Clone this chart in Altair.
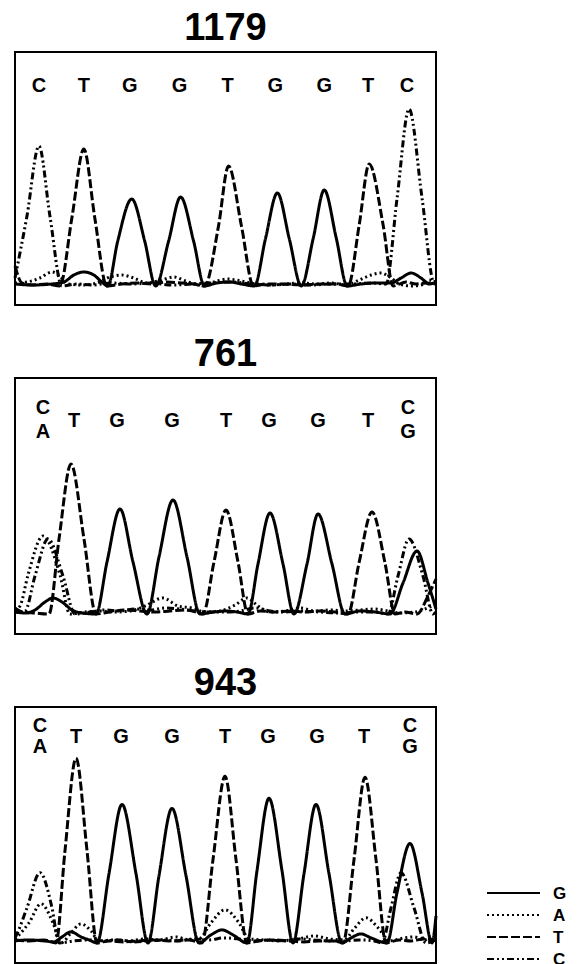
import altair as alt
import pandas as pd

BASES = ["G", "A", "T", "C"]
DASHES = [[1, 0], [2, 3], [9, 3], [7, 3, 2, 3, 2, 3]]

# ---------------- panel 1 : 1179 ----------------
p1_title = "1179"
p1_G = [(13, 2), (30, 1), (50, 2), (62, 4), (72, 11), (82, 14), (92, 11), (100, 4), (106, 0), (116, 45), (130, 87),
        (143, 45), (154, 0), (167, 45), (179, 89), (192, 45), (203, 0), (215, 3), (228, 4), (240, 2), (253, 0),
        (264, 47), (276, 93), (288, 47), (300, 0), (312, 48), (323, 96), (335, 48), (346, 0), (360, 2), (375, 3),
        (390, 3), (400, 8), (410, 13), (420, 8), (428, 2), (435, 4)]
p1_A = [(13, 3), (25, 4), (38, 8), (50, 14), (58, 10), (66, 2), (80, 1), (95, 3), (108, 9), (120, 11), (132, 8),
        (145, 3), (160, 6), (172, 9), (184, 5), (198, 1), (212, 4), (226, 7), (240, 5), (255, 2), (270, 1), (285, 2),
        (300, 3), (315, 2), (330, 3), (345, 1), (358, 6), (370, 11), (380, 13), (390, 8), (398, 2), (410, 0),
        (420, 1), (428, 6), (435, 3)]
p1_T = [(13, 20), (20, 3), (30, 1), (45, 2), (58, 0), (70, 68), (82, 137), (93, 68), (105, 0), (120, 2), (135, 3),
        (150, 2), (165, 4), (180, 3), (192, 2), (203, 0), (217, 60), (227, 120), (240, 60), (252, 0), (265, 2),
        (280, 2), (300, 1), (320, 2), (335, 2), (347, 0), (358, 61), (368, 122), (382, 61), (392, 0), (405, 4),
        (415, 2), (425, 3), (435, 2)]
p1_C = [(13, 8), (25, 70), (37, 140), (48, 70), (60, 0), (75, 2), (90, 1), (110, 3), (130, 2), (150, 3), (170, 1),
        (190, 2), (210, 3), (230, 4), (250, 2), (270, 1), (290, 2), (310, 1), (330, 2), (350, 2), (370, 3),
        (385, 2), (396, 88), (408, 177), (421, 88), (433, 4), (435, 8)]
p1_letters = ["C", "T", "G", "G", "T", "G", "G", "T", "C"]
p1_letter_x = [37, 82, 128, 178, 226, 274, 323, 367, 406]
p1_letter_row = ["mid"] * 9

# ---------------- panel 2 : 761 ----------------
p2_title = "761"
p2_G = [(15, 2), (25, 1), (35, 4), (45, 12), (53, 16), (62, 12), (72, 4), (82, 1), (96, 0), (107, 52), (120, 105),
        (133, 52), (147, 0), (159, 57), (173, 114), (187, 57), (200, 0), (214, 2), (226, 3), (237, 2), (248, 0),
        (258, 50), (270, 101), (283, 50), (294, 0), (307, 50), (318, 100), (332, 50), (345, 0), (360, 3),
        (375, 2), (390, 0), (403, 31), (417, 63), (428, 31), (436, 5)]
p2_A = [(15, 4), (20, 8), (28, 39), (43, 78), (60, 39), (70, 0), (85, 2), (100, 3), (115, 2), (130, 3), (145, 8),
        (163, 16), (178, 8), (192, 6), (205, 2), (220, 3), (235, 9), (247, 16), (258, 8), (270, 2), (285, 3),
        (300, 6), (315, 3), (330, 4), (345, 3), (360, 4), (375, 5), (388, 3), (400, 1), (415, 2), (425, 5),
        (436, 10)]
p2_T = [(15, 6), (22, 2), (35, 1), (49, 0), (59, 75), (71, 150), (84, 75), (96, 0), (110, 2), (125, 4), (140, 3),
        (155, 2), (170, 3), (185, 4), (196, 2), (203, 0), (214, 52), (226, 104), (238, 52), (248, 0), (260, 3),
        (275, 2), (290, 3), (305, 2), (320, 3), (335, 2), (348, 0), (359, 51), (372, 102), (385, 51), (395, 0),
        (405, 2), (417, 0), (428, 18), (436, 35)]
p2_C = [(15, 2), (25, 3), (35, 38), (48, 75), (63, 38), (75, 0), (90, 2), (105, 4), (120, 3), (135, 5), (150, 4),
        (165, 6), (180, 5), (195, 3), (210, 2), (225, 2), (240, 3), (255, 6), (270, 3), (285, 2), (300, 3),
        (320, 2), (340, 1), (360, 2), (375, 2), (388, 0), (398, 38), (409, 75), (423, 38), (433, 0), (436, 2)]
p2_letters = ["C", "A", "T", "G", "G", "T", "G", "G", "T", "C", "G"]
p2_letter_x = [43, 43, 74, 117, 172, 226, 269, 318, 368, 408, 408]
p2_letter_row = ["top", "bot", "mid", "mid", "mid", "mid", "mid", "mid", "mid", "top", "bot"]

# ---------------- panel 3 : 943 ----------------
p3_title = "943"
p3_G = [(16, 2), (30, 3), (45, 2), (55, 1), (63, 6), (72, 11), (82, 6), (90, 3), (98, 0), (110, 69), (123, 138),
        (137, 69), (149, 0), (160, 67), (173, 134), (187, 67), (200, 0), (212, 8), (223, 13), (234, 8), (248, 0),
        (258, 72), (270, 144), (283, 72), (294, 0), (305, 69), (317, 138), (330, 69), (343, 0), (352, 5),
        (362, 9), (372, 5), (388, 0), (398, 50), (411, 99), (423, 50), (433, 0), (437, 27)]
p3_A = [(16, 4), (20, 8), (30, 20), (42, 39), (54, 20), (62, 0), (72, 10), (82, 19), (92, 12), (100, 2), (115, 3),
        (130, 2), (145, 4), (160, 3), (177, 6), (190, 3), (200, 4), (212, 20), (226, 33), (240, 20), (250, 4),
        (265, 3), (280, 2), (300, 4), (315, 7), (330, 4), (345, 3), (355, 14), (367, 25), (380, 14), (390, 2),
        (405, 5), (415, 6), (425, 3), (437, 8)]
p3_T = [(16, 3), (30, 2), (45, 3), (57, 0), (66, 92), (77, 184), (88, 92), (98, 0), (110, 2), (125, 1), (140, 2),
        (155, 3), (170, 2), (190, 3), (203, 0), (214, 83), (226, 166), (237, 83), (248, 0), (260, 2), (275, 3),
        (290, 2), (305, 1), (320, 2), (335, 2), (344, 0), (355, 83), (366, 165), (377, 83), (387, 0), (400, 3),
        (412, 2), (425, 4), (437, 2)]
p3_C = [(16, 5), (18, 9), (28, 35), (41, 70), (53, 35), (60, 0), (75, 2), (90, 3), (105, 2), (120, 3), (135, 1),
        (150, 2), (165, 3), (180, 2), (195, 4), (210, 3), (225, 5), (240, 4), (255, 2), (270, 3), (285, 2),
        (300, 4), (315, 3), (330, 2), (345, 2), (360, 3), (375, 2), (383, 0), (392, 35), (402, 70), (415, 35),
        (427, 0), (437, 3)]
p3_letters = ["C", "A", "T", "G", "G", "T", "G", "G", "T", "C", "G"]
p3_letter_x = [41, 41, 77, 122, 173, 226, 269, 318, 365, 411, 411]
p3_letter_row = ["top", "bot", "mid", "mid", "mid", "mid", "mid", "mid", "mid", "top", "bot"]

# ---------------- layout (pixels) ----------------
FONT = "Liberation Sans"
W = 421
dash_scale = alt.Scale(domain=BASES, range=DASHES)


def trace_frame(traces):
    rows = []
    for base, pts in traces.items():
        for x, h in pts:
            rows.append({"base": base, "x": x, "h": h})
    return pd.DataFrame(rows)


def panel(title, traces, letters, letter_x, letter_row, xdom, ydom, height, row_px, legend=False):
    df = trace_frame(traces)
    xs = alt.Scale(domain=xdom, nice=False, zero=False)
    ys = alt.Scale(domain=ydom, nice=False, zero=False)
    lines = alt.Chart(df).mark_line(interpolate="monotone", color="black", strokeWidth=3).encode(
        x=alt.X("x:Q", scale=xs, axis=None),
        y=alt.Y("h:Q", scale=ys, axis=None),
        strokeDash=alt.StrokeDash("base:N", scale=dash_scale, legend=None),
        detail="base:N",
    )
    ldf = pd.DataFrame({"letter": letters, "x": letter_x, "row": letter_row})
    layers = [lines]
    for row, py in row_px.items():
        layers.append(
            alt.Chart(ldf).transform_filter(alt.datum.row == row).mark_text(
                font=FONT, fontSize=20, fontWeight="bold", color="black", baseline="middle"
            ).encode(x=alt.X("x:Q", scale=xs, axis=None), y=alt.value(py), text="letter:N")
        )
    tdf = pd.DataFrame({"t": [title]})
    layers.append(
        alt.Chart(tdf).mark_text(font=FONT, fontSize=38, fontWeight="bold", color="black", baseline="middle").encode(
            x=alt.value(W / 2), y=alt.value(-23), text="t:N")
    )
    if legend:
        gdf = pd.DataFrame({"base": BASES})
        for i, b in enumerate(BASES):
            yy = 186 + 22 * i
            layers.append(
                alt.Chart(gdf).transform_filter(alt.datum.base == b).mark_rule(color="black", strokeWidth=2).encode(
                    x=alt.value(472), x2=alt.value(525), y=alt.value(yy),
                    strokeDash=alt.StrokeDash("base:N", scale=dash_scale, legend=None))
            )
            layers.append(
                alt.Chart(gdf).transform_filter(alt.datum.base == b).mark_text(
                    font=FONT, fontSize=17, fontWeight="bold", color="black", baseline="middle", align="left"
                ).encode(x=alt.value(538), y=alt.value(yy + 1), text="base:N")
            )
    return alt.layer(*layers).properties(width=W, height=height)


p1 = panel(p1_title, {"G": p1_G, "A": p1_A, "T": p1_T, "C": p1_C}, p1_letters, p1_letter_x, p1_letter_row,
           [13, 435], [-19, 234], 253, {"mid": 33.5})
p2 = panel(p2_title, {"G": p2_G, "A": p2_A, "T": p2_T, "C": p2_C}, p2_letters, p2_letter_x, p2_letter_row,
           [15, 436], [-20, 236], 256, {"mid": 42.5, "top": 29.5, "bot": 53.5})
p3 = panel(p3_title, {"G": p3_G, "A": p3_A, "T": p3_T, "C": p3_C}, p3_letters, p3_letter_x, p3_letter_row,
           [16, 437], [-20, 235], 256, {"mid": 30, "top": 19, "bot": 40}, legend=True)

chart = alt.vconcat(p1, p2, p3, spacing=73, bounds="flush").properties(
    padding={"left": 0, "top": 1, "right": 0, "bottom": 0}
).configure_view(stroke="black", strokeWidth=2)

chart.save("out.html", embed_options={"renderer": "svg", "actions": False})
